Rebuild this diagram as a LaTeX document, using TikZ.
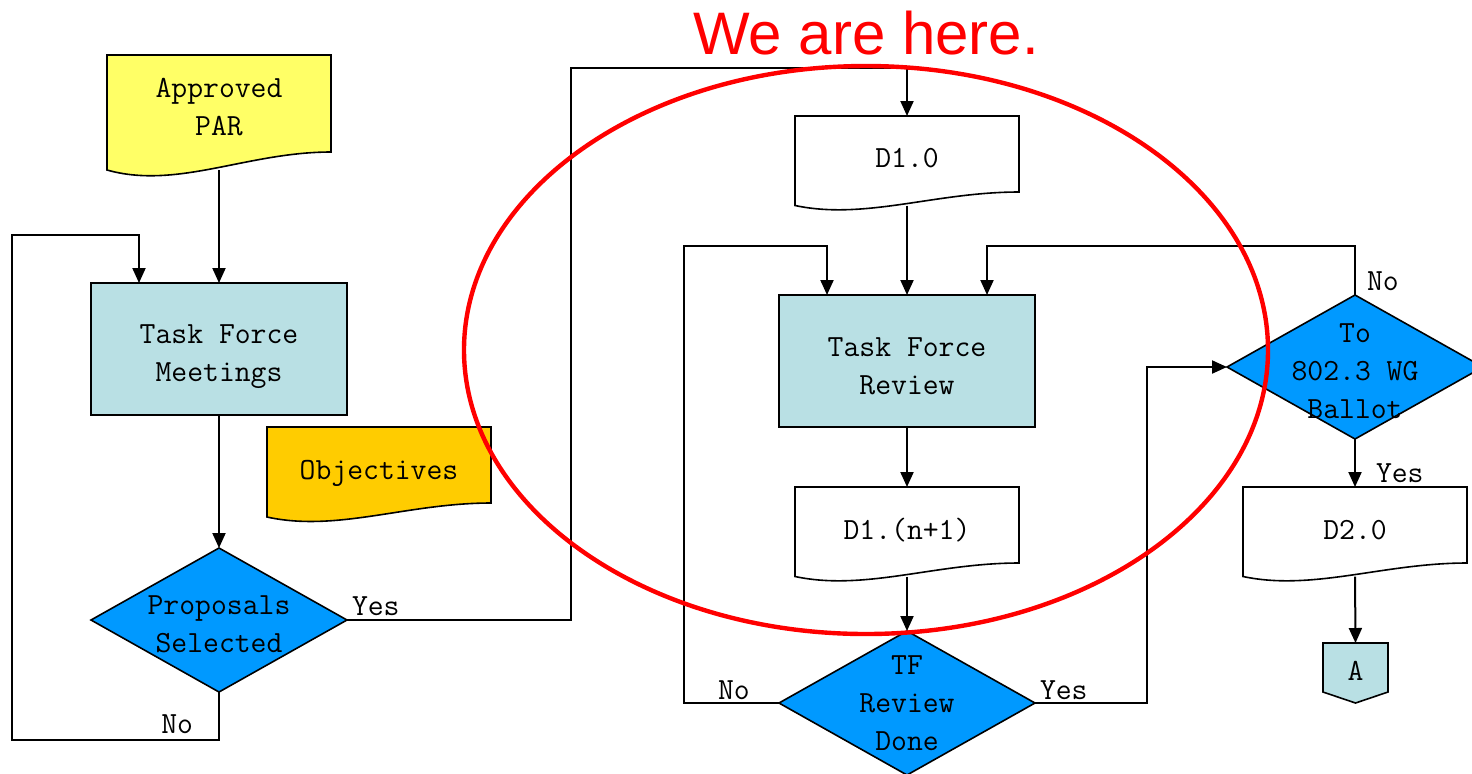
\documentclass[tikz,border=0pt]{standalone}
\usepackage{fontspec}
\newfontfamily\headfont{Liberation Sans}
\usetikzlibrary{arrows.meta, shapes.geometric, backgrounds}
\definecolor{parYellow}{HTML}{FFFF66}
\definecolor{objOrange}{HTML}{FFCC00}
\definecolor{boxBlue}{HTML}{B9E0E4}
\definecolor{decBlue}{HTML}{0099FF}

\begin{document}
\begin{tikzpicture}[x=0.5pt, y=-0.5pt,
    font=\ttfamily\fontsize{15.4}{19}\selectfont,
    every node/.style={outer sep=0pt},
    docbox/.style={minimum width=112pt, minimum height=38pt, inner sep=0pt},
    procbox/.style={draw, fill=boxBlue, line width=0.8pt, minimum width=128pt, minimum height=66pt, inner sep=0pt},
    decision/.style={diamond, draw, fill=decBlue, line width=0.8pt, minimum width=128pt, minimum height=72pt, inner sep=0pt},
    dectext/.style={align=center, inner sep=0pt},
    flow/.style={line width=1pt, -{Triangle[length=7.5pt, width=6.5pt]}},
    lbl/.style={inner sep=0pt, anchor=base west}]
  \useasboundingbox (0,0) rectangle (1472,773);

  % left column
  \node[docbox, minimum height=48.5pt, label={[dectext, yshift=-2pt]center:{Approved\\PAR}}] (par) at (219,103.5) {};
  \node[procbox, label={[dectext, yshift=-4pt]center:{Task Force\\Meetings}}] (tfm) at (219,349) {};
  \node[docbox, label={[dectext, yshift=-4pt]center:{Objectives}}] (obj) at (379,465) {};
  \node[decision, label={[dectext, yshift=-2pt]center:{Proposals\\Selected}}] (prop) at (219,620) {};

  % middle column
  \node[docbox, label={[dectext, yshift=-2pt]center:{D1.0}}] (d10) at (907,154) {};
  \node[procbox, label={[dectext, yshift=-2.5pt]center:{Task Force\\Review}}] (tfr) at (907,361) {};
  \node[docbox, label={[dectext, yshift=-2.5pt]center:{D1.(n+1)}}] (dn) at (907,525) {};
  \node[decision, label={[dectext]center:{TF\\Review\\Done}}] (done) at (907,703) {};

  % right column
  \node[decision, label={[dectext, yshift=-2pt]center:{To\\802.3 WG\\Ballot}}] (ballot) at (1355,367) {};
  \node[docbox, label={[dectext, yshift=-2.5pt]center:{D2.0}}] (d20) at (1355,525) {};
  \node[minimum width=32.5pt, minimum height=24.5pt, inner sep=0pt, label={[dectext, yshift=-1.5pt]center:A}] (conA) at (1355.5,667.5) {};

  % document and off-page outlines
  \begin{scope}[on background layer]
    \foreach \n/\c/\d in {par/parYellow/9, obj/objOrange/7, d10/white/6.75, dn/white/6.75, d20/white/6.75}
      \draw[fill=\c, line width=0.8pt] (\n.north west) -- (\n.north east) -- (\n.south east)
        .. controls ([xshift=-42pt]\n.south east) and ([xshift=35pt, yshift={-2.1*\d pt}]\n.south west)
        .. ([yshift={-\d pt}]\n.south west) -- cycle;
    \draw[fill=boxBlue, line width=0.8pt] (conA.north west) -- (conA.north east) -- (conA.south east)
      -- ([yshift=-5.5pt]conA.south) -- (conA.south west) -- cycle;
  \end{scope}

  \coordinate (loopA) at (12,740);
  \coordinate (loopB) at (12,235);
  \coordinate (yesA) at (571,68);
  \coordinate (noB) at (684,246);
  \coordinate (yesB) at (1147,367);
  \coordinate (noC) at (987,246);

  \draw[flow] ([yshift=-9pt]par.south) -- (tfm.north);
  \draw[flow] (tfm.south) -- (prop.north);
  \draw[flow] (prop.south) |- (loopA) -- (loopB) -| ([xshift=-40pt]tfm.north);
  \draw[flow] (prop.east) -| (yesA) -| (d10.north);

  \draw[flow] ([yshift=-6.75pt]d10.south) -- (tfr.north);
  \draw[flow] (tfr.south) -- (dn.north);
  \draw[flow] ([yshift=-6.75pt]dn.south) -- (done.north);
  \draw[flow] (done.west) -| (noB) -| ([xshift=-40pt]tfr.north);
  \draw[flow] (done.east) -| (yesB) -- (ballot.west);

  \draw[flow] (ballot.north) |- (noC) -- ([xshift=40pt]tfr.north);
  \draw[flow] (ballot.south) -- (d20.north);
  \draw[flow] ([yshift=-6.75pt]d20.south) -- (conA.north);

  % branch labels
  \node[lbl] (yesP) at ([xshift=2.5pt, yshift=2.5pt]prop.east) {Yes};
  \node[lbl, anchor=base east] (noP) at (193,733) {No};
  \node[lbl] (noD) at (718,699) {No};
  \node[lbl] (yesD) at (1040,699) {Yes};
  \node[lbl] (noT) at (1367,290) {No};
  \node[lbl] (yesT) at (1376,482) {Yes};

  % highlight
  \draw[red, line width=2.2pt] (866,350) ellipse [x radius=201pt, y radius=142pt];
  \node[font=\headfont\fontsize{30}{36}\selectfont, text=red] (here) at (866,33) {We are here.};
\end{tikzpicture}
\end{document}
